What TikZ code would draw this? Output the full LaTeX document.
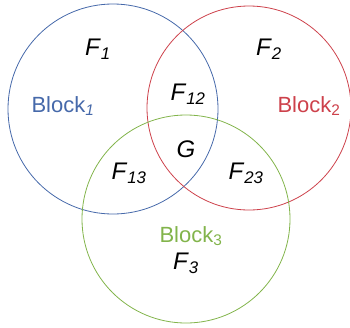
\documentclass[tikz,border=0pt]{standalone}
\usepackage{fontspec}
\setmainfont{Liberation Sans}
\definecolor{blockblue}{RGB}{70,105,170}
\definecolor{blockred}{RGB}{205,65,75}
\definecolor{blockgreen}{RGB}{130,180,75}
\begin{document}
\begin{tikzpicture}[
    x=1pt, y=-1pt,
    ring/.style={draw,circle,line width=0.8pt,inner sep=0pt},
    f/.style={font=\fontsize{24}{26}\selectfont},
    blk/.style={font=\fontsize{22}{24}\selectfont},
]

    \useasboundingbox (0,0) rectangle (350,327);

    \node[ring,draw=blockblue,minimum size=210pt] (b1) at (113,109) {};
    \node[ring,draw=blockred,minimum size=204pt] (b2) at (249,108) {};
    \node[ring,draw=blockgreen,minimum size=208pt] (b3) at (186,219) {};

    \node[blk,text=blockblue] (l1) at (63,106) {Block\textsubscript{\textit{1}}};
    \node[blk,text=blockred] (l2) at (309,106) {Block\textsubscript{2}};
    \node[blk,text=blockgreen] (l3) at (191,236) {Block\textsubscript{3}};

    \node[f] (f1) at (98,49) {\textit{F}\textsubscript{\textit{1}}};
    \node[f] (f2) at (269,49) {\textit{F}\textsubscript{\textit{2}}};
    \node[f] (f12) at (188,94) {\textit{F}\textsubscript{\textit{12}}};
    \node[f] (g) at (186,149) {\textit{G}};
    \node[f] (f13) at (129,173) {\textit{F}\textsubscript{\textit{13}}};
    \node[f] (f23) at (246,173) {\textit{F}\textsubscript{\textit{23}}};
    \node[f] (f3) at (186,263) {\textit{F}\textsubscript{\textit{3}}};

\end{tikzpicture}
\end{document}
